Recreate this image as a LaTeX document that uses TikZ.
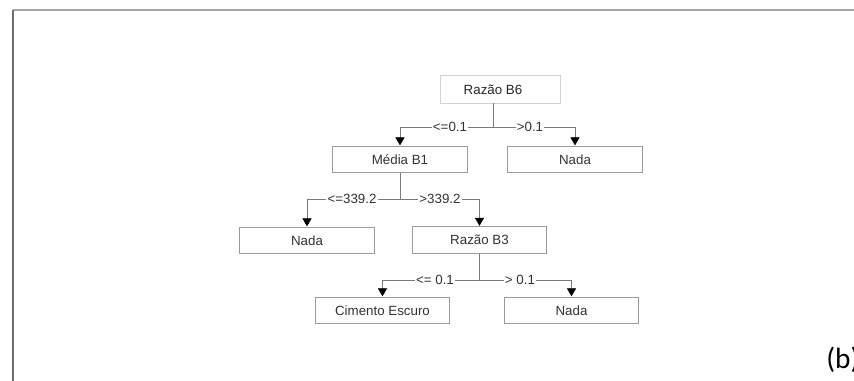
\documentclass[tikz,border=0pt]{standalone}
\usepackage{fontspec}
\setmainfont{Liberation Sans}
\newfontfamily\labfont{Carlito}
\usetikzlibrary{arrows.meta}
\definecolor{boxgray}{HTML}{9A9A9A}
\definecolor{linegray}{HTML}{7A7A7A}
\definecolor{txt}{HTML}{333333}
\begin{document}
\begin{tikzpicture}[x=0.75pt,y=-0.75pt,
  leaf/.style={draw=boxgray,line width=0.6pt,fill=white,minimum width=101pt,minimum height=20pt,inner sep=0pt,font=\fontsize{10}{12}\selectfont,text=txt},
  rootbox/.style={draw=gray!35,line width=0.6pt,fill=white,minimum width=90pt,minimum height=21pt,inner sep=0pt},
  conn/.style={draw=linegray,line width=0.5pt},
  arr/.style={conn,-{Triangle[width=6.8pt,length=6pt,color=black]},shorten >=0.3pt},
  lab/.style={fill=white,inner sep=1pt,font=\fontsize{10}{12}\selectfont,text=txt}]
\useasboundingbox (0,0) rectangle (854,381);
\fill[white] (0,0) rectangle (854,381);
% frame
\draw[gray!70,line width=1.2pt] (13,10) -- (854,10);
\draw[gray!85!black,line width=1.2pt] (13,10) -- (13,381);
% nodes
\node[rootbox] (root) at (500.5,89) {};
\node[font=\fontsize{10}{12}\selectfont,text=black!85,inner sep=0pt] (rtext) at (493,90) {Razão B6};
\node[leaf] (mb1) at (400,159.5) {Média B1};
\node[leaf] (nada1) at (575,159.5) {Nada};
\node[leaf] (nada2) at (307,240.5) {Nada};
\node[leaf] (rb3) at (479.5,240) {Razão B3};
\node[leaf] (cim) at (382.5,310.5) {Cimento Escuro};
\node[leaf] (nada3) at (571.5,310.5) {Nada};
% junctions
\coordinate (j1) at (493,127);
\coordinate (j2) at (400,199);
\coordinate (j3) at (479.5,280);
% level 1
\draw[conn] (root.south -| j1) -- (j1);
\draw[arr] (j1) -| (mb1.north);
\draw[arr] (j1) -| (nada1.north);
\node[lab] (l1) at (450,127) {<=0.1};
\node[lab] (l2) at (530,127) {>0.1};
% level 2
\draw[conn] (mb1.south) -- (j2);
\draw[arr] (j2) -| (nada2.north);
\draw[arr] (j2) -| (rb3.north);
\node[lab] (l3) at (352,199) {<=339.2};
\node[lab] (l4) at (440,199) {>339.2};
% level 3
\draw[conn] (rb3.south) -- (j3);
\draw[arr] (j3) -| (cim.north);
\draw[arr] (j3) -| (nada3.north);
\node[lab] (l5) at (435,280) {<= 0.1};
\node[lab] (l6) at (520,280) {> 0.1};
% caption
\node[font=\labfont\fontsize{22}{26}\selectfont,anchor=west,inner sep=0pt] (cap) at (826,360) {(b)};
\end{tikzpicture}
\end{document}
